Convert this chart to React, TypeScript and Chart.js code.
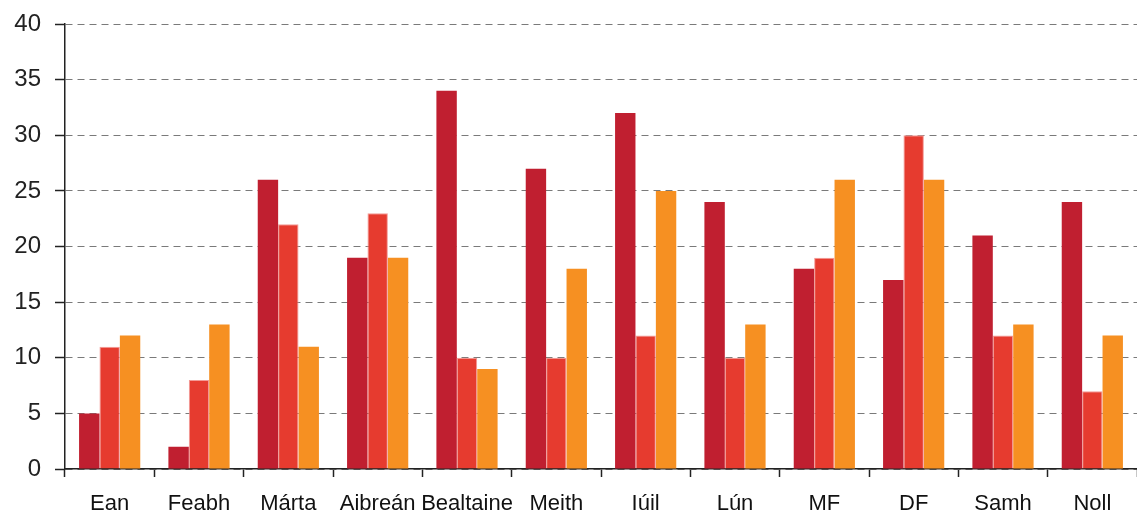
import React, { useEffect, useRef } from "react";
import { Chart, registerables } from "chart.js";

Chart.register(...registerables);

const categories = ["Ean", "Feabh", "Márta", "Aibreán", "Bealtaine", "Meith", "Iúil", "Lún", "MF", "DF", "Samh", "Noll"];
const series1 = [5, 2, 26, 19, 34, 27, 32, 24, 18, 17, 21, 24];
const series2 = [11, 8, 22, 23, 10, 10, 12, 10, 19, 30, 12, 7];
const series3 = [12, 13, 11, 19, 9, 18, 25, 13, 26, 26, 13, 12];

export default function App() {
  const ref = useRef<HTMLCanvasElement>(null);
  useEffect(() => {
    const ctx = ref.current!;
    const chart = new Chart(ctx, {
      type: "bar",
      data: {
        labels: categories,
        datasets: [
          { data: series1, backgroundColor: "#C01F30", borderColor: "#C01F30", borderWidth: 0 },
          { data: series2, backgroundColor: "#E63B2F", borderColor: "#F39A96", borderWidth: 1 },
          { data: series3, backgroundColor: "#F69022", borderColor: "#F69022", borderWidth: 0 },
        ],
      },
      options: {
        animation: false,
        responsive: false,
        maintainAspectRatio: false,
        layout: { padding: { top: 24, right: 0, left: 0, bottom: 0 } },
        plugins: { legend: { display: false }, tooltip: { enabled: false } },
        datasets: { bar: { categoryPercentage: 0.685, barPercentage: 1.0 } },
        scales: {
          x: {
            offset: true,
            grid: { display: true, drawOnChartArea: false, drawTicks: true, tickLength: 8, color: "#222", offset: true, tickWidth: 1.5 },
            border: { display: true, color: "#222", width: 1.5 },
            ticks: { color: "#111", font: { family: "Liberation Sans", size: 22 }, padding: 14, maxRotation: 0, autoSkip: false },
            afterFit: (s: any) => { s.height = 44; s.paddingLeft = 0; s.paddingRight = 0; },
          },
          y: {
            min: 0,
            max: 40,
            ticks: { stepSize: 5, color: "#222", font: { family: "Liberation Sans", size: 24 }, padding: 14 },
            grid: { color: "#7a7a7a", lineWidth: 1, tickLength: 10, tickColor: "#222", tickWidth: 1.5 },
            border: { display: true, color: "#222", width: 1.5, dash: [7, 5] },
            afterFit: (s: any) => { s.width = 65; s.paddingTop = 0; s.paddingBottom = 0; },
          },
        },
      },
    } as any);
    return () => chart.destroy();
  }, []);
  return (
    <div style={{ position: "absolute", left: 0, top: 0, width: 1137, height: 513 }}>
      <canvas ref={ref} width={1137} height={513} style={{ display: "block", width: 1137, height: 513 }} />
    </div>
  );
}
